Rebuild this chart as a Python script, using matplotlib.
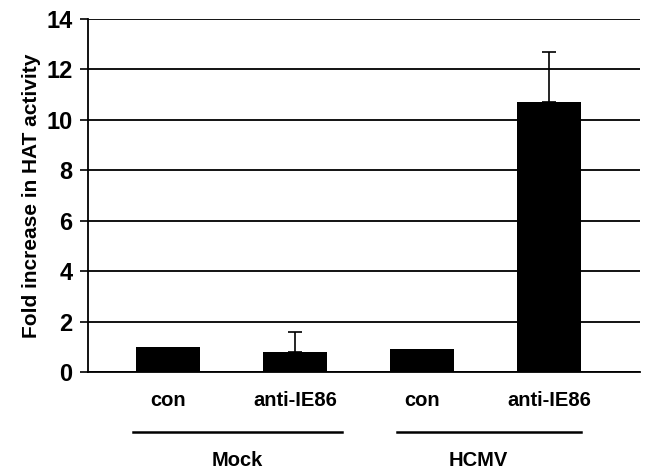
import matplotlib
matplotlib.use("Agg")
import matplotlib.pyplot as plt
import numpy as np

plt.rcParams["font.family"] = ["Liberation Sans", "DejaVu Sans"]
plt.rcParams["font.weight"] = "bold"

categories = ["con", "anti-IE86", "con", "anti-IE86"]
groups = ["Mock", "HCMV"]
fold_increase = [1.0, 0.8, 0.9, 10.7]
err_upper = [0.0, 0.8, 0.0, 2.0]

fig = plt.figure(figsize=(6.45, 4.73), dpi=100)
ax = fig.add_axes([0.136, 0.2135, 0.857, 0.7465])

x = np.arange(len(categories))
ax.bar(x, fold_increase, width=0.5, color="black", zorder=3)
# only upper error bars, and only where present
mask = np.array(err_upper) > 0
ax.errorbar(x[mask], np.array(fold_increase)[mask],
            yerr=[np.zeros(mask.sum()), np.array(err_upper)[mask]],
            fmt="none", ecolor="black", elinewidth=1.2, capsize=5, capthick=1.2, zorder=4)

ax.set_xlim(-0.63, 3.72)
ax.set_ylim(0, 14)
ax.set_yticks(np.arange(0, 15, 2))
ax.yaxis.grid(True, color="black", linewidth=1.3, zorder=0)
ax.set_axisbelow(True)
ax.tick_params(axis="y", labelsize=17, length=6, width=1.2, direction="out", pad=5)
ax.set_xticks(x)
ax.set_xticklabels(categories, fontsize=14.5, fontweight="bold")
ax.tick_params(axis="x", length=0, pad=14)
for lab in ax.get_yticklabels():
    lab.set_fontweight("bold")

for s in ["top", "right"]:
    ax.spines[s].set_visible(False)
ax.spines["left"].set_linewidth(1.3)
ax.spines["bottom"].set_linewidth(1.3)

ax.set_ylabel("Fold increase in HAT activity", fontsize=15, fontweight="bold", labelpad=4)

# group underlines and labels
trans = ax.get_xaxis_transform()
spans = [(-0.27, 1.37), (1.8, 3.25)]
label_x = [0.55, 2.44]
for (x0, x1), lx, g in zip(spans, label_x, groups):
    ax.plot([x0, x1], [-0.17, -0.17], color="black", linewidth=1.8,
            transform=trans, clip_on=False)
    ax.text(lx, -0.25, g, transform=trans, ha="center", va="center",
            fontsize=14.5, fontweight="bold")

fig.savefig("out.png", dpi=100)
